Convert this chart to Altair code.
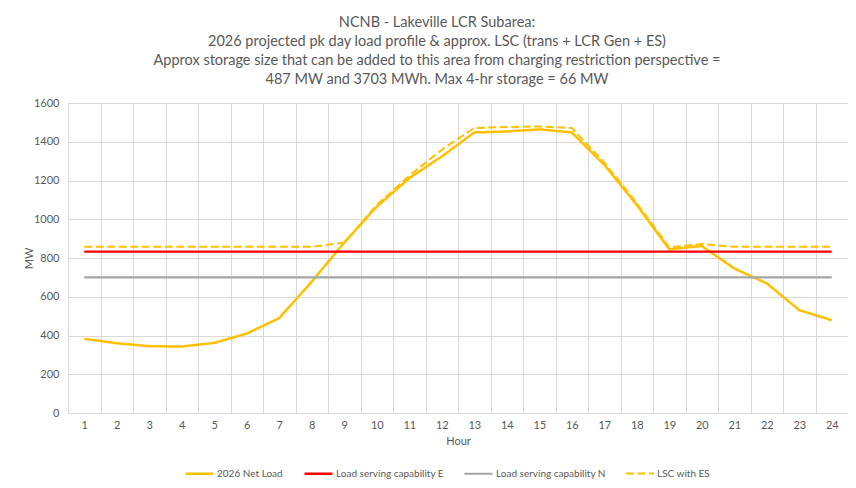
import altair as alt
import pandas as pd

hours = list(range(1, 25))
net_load = [383, 360, 345, 343, 362, 410, 490, 678, 880, 1065, 1212, 1324,
            1448, 1453, 1464, 1448, 1281, 1074, 845, 862, 746, 669, 531, 479]
lsc_e = [833] * 24
lsc_n = [700] * 24
lsc_es = [858, 858, 858, 858, 858, 858, 858, 858, 879, 1074, 1224, 1359,
          1471, 1476, 1479, 1471, 1293, 1083, 855, 872, 858, 858, 858, 858]

series_names = ["2026 Net Load", "Load serving capability E",
                "Load serving capability N", "LSC with ES"]
series_colors = ["#FFC000", "#FF0000", "#A5A5A5", "#FFC000"]
series_dash = [[1, 0], [1, 0], [1, 0], [8, 3.5]]

rows = []
for name, vals in zip(series_names, [net_load, lsc_e, lsc_n, lsc_es]):
    for h, v in zip(hours, vals):
        rows.append({"Hour": str(h), "MW": v, "Series": name})
df = pd.DataFrame(rows)

FONT = "Lato"
GREY_TXT = "#595959"
W, H = 780, 310

x = alt.X("Hour:N", sort=[str(h) for h in hours],
          scale=alt.Scale(paddingInner=0, paddingOuter=0),
          axis=alt.Axis(title="Hour", tickBand="extent", grid=True, gridColor="#D9D9D9",
                        ticks=False, labelAngle=0, labelPadding=6,
                        domainColor="#D9D9D9", labelColor=GREY_TXT, labelFontSize=11,
                        titleColor=GREY_TXT, titleFontSize=11, titleFontWeight="normal",
                        titlePadding=5, labelFont=FONT, titleFont=FONT))
y = alt.Y("MW:Q", scale=alt.Scale(domain=[0, 1600], nice=False),
          axis=alt.Axis(title="MW", values=[0, 200, 400, 600, 800, 1000, 1200, 1400, 1600],
                        format="d",
                        grid=True, gridColor="#D9D9D9", domain=False, ticks=False,
                        labelPadding=9, labelColor=GREY_TXT, labelFontSize=11,
                        titleColor=GREY_TXT, titleFontSize=11, titleFontWeight="normal",
                        titleX=-39, titleY=H / 2, titleAngle=-90, titleBaseline="middle",
                        titleAlign="center", labelFont=FONT, titleFont=FONT))

legend = alt.Legend(title=None, orient="none", direction="horizontal",
                    legendX=116, legendY=355, symbolType="stroke",
                    symbolStrokeWidth=2.5, symbolSize=784,
                    labelFont=FONT, labelFontSize=10, labelColor=GREY_TXT,
                    labelOffset=2, columnPadding=16)
color = alt.Color("Series:N",
                  scale=alt.Scale(domain=series_names, range=series_colors),
                  legend=legend)
dash = alt.StrokeDash("Series:N",
                      scale=alt.Scale(domain=series_names, range=series_dash),
                      legend=legend)
width = alt.StrokeWidth("Series:N",
                        scale=alt.Scale(domain=series_names, range=[2.5, 2, 2.5, 2.8]),
                        legend=None)

base = alt.Chart(df).encode(x=x, y=y, color=color, strokeDash=dash, strokeWidth=width)
solid = base.transform_filter(alt.datum.Series != "LSC with ES").mark_line()
dashed = base.transform_filter(alt.datum.Series == "LSC with ES").mark_line()

chart = alt.layer(solid, dashed).properties(
    width=W, height=H,
    autosize=alt.AutoSizeParams(type="none"),
    padding={"left": 60, "top": 95, "right": 0, "bottom": 67},
    title=alt.TitleParams(
        text=["NCNB - Lakeville LCR Subarea:",
              "2026 projected pk day load profile & approx. LSC (trans + LCR Gen + ES)",
              "Approx storage size that can be added to this area from charging restriction perspective =",
              "487 MW and 3703 MWh. Max 4-hr storage = 66 MW"],
        anchor="middle", font=FONT, fontSize=14.5, fontWeight="normal", color=GREY_TXT,
        lineHeight=19.3, offset=9, dx=-21),
).configure_view(stroke=None).configure(background="white")

chart.save("out.html", embed_options={"renderer": "svg", "actions": False})
